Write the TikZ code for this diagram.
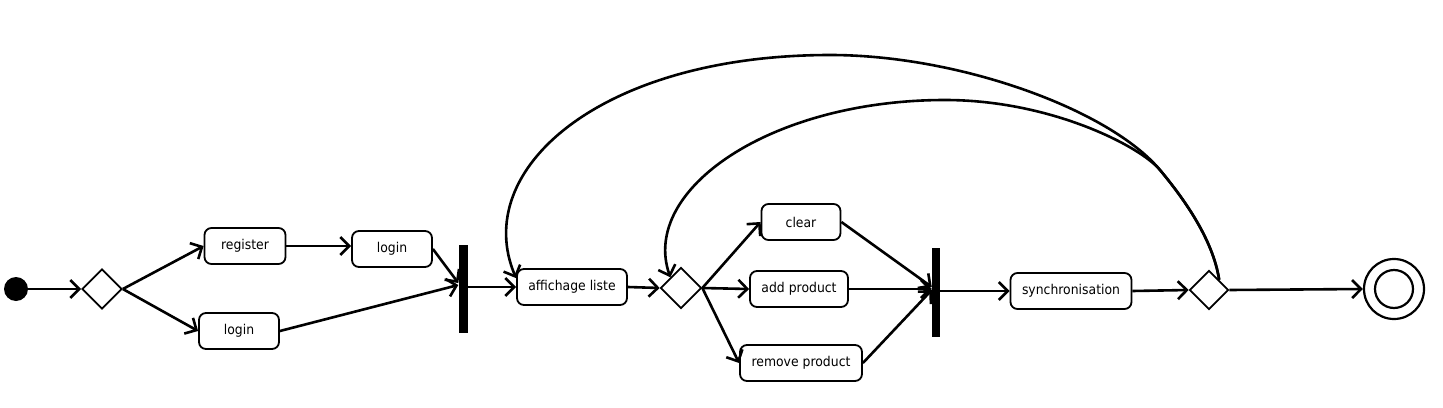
\documentclass[tikz,border=0pt]{standalone}
\usepackage{fontspec}
\setmainfont{DejaVu Sans}[FakeStretch=0.92]
\usetikzlibrary{shapes.geometric,arrows.meta}
\begin{document}
\begin{tikzpicture}[x=1pt,y=-1pt,
  act/.style={draw,rounded corners=7pt,line width=1.8pt,minimum height=36pt,inner sep=0pt,font=\fontsize{13.5}{15}\selectfont},
  dec/.style={draw,diamond,aspect=1,minimum size=40pt,inner sep=0pt,line width=1.7pt},
  syncbar/.style={fill=black,minimum width=9pt,inner sep=0pt},
  flow/.style={line width=2.6pt,-{Straight Barb[length=9pt,width=18pt,line width=2.6pt]}}
]
\useasboundingbox (0,0) rectangle (1443,407);
\node[circle,fill=black,minimum size=24pt,inner sep=0pt] (init) at (16,289) {};
\node[dec] (d1) at (102,289) {};
\node[act,minimum width=81pt] (reg) at (245,246) {register};
\node[act,minimum width=80pt] (login1) at (392,249) {login};
\node[act,minimum width=80pt] (login2) at (239,331) {login};
\node[syncbar,minimum height=88pt] (bar1) at (463,289) {};
\node[act,minimum width=110pt] (aff) at (572,287) {affichage liste};
\node[dec,minimum size=41pt] (d2) at (681,288) {};
\node[act,minimum width=79pt] (clear) at (801,222) {clear};
\node[act,minimum width=98pt] (add) at (799,289) {add product};
\node[act,minimum width=122pt] (rem) at (801,363) {remove product};
\node[syncbar,minimum width=8pt,minimum height=89pt] (bar2) at (936,292) {};
\node[act,minimum width=121pt] (sync) at (1071,291) {synchronisation};
\node[dec,minimum size=39pt] (d3) at (1209,290) {};
\node[circle,draw,line width=2.2pt,minimum size=60pt,inner sep=0pt] (fin) at (1394,289) {};
\node[circle,draw,line width=2.2pt,minimum size=38pt,inner sep=0pt] (finin) at (1394,289) {};

\draw[flow] (init) -- (d1.west);
\draw[flow] (d1.east) -- (reg.west);
\draw[flow] (d1.east) -- (login2.west);
\draw[flow] (reg.east) -- (login1.west |- reg.east);
\draw[flow] (login1.east) -- ([yshift=6pt]bar1.west);
\draw[flow] (login2.east) -- ([yshift=4pt]bar1.west);
\draw[flow] (bar1.east |- aff.west) -- (aff.west);
\draw[flow] (aff.east) -- (d2.west);
\draw[flow] (d2.east) -- (clear.west);
\draw[flow] (d2.east) -- (add.west);
\draw[flow] (d2.east) -- (rem.west);
\draw[flow] (clear.east) -- ([yshift=5pt]bar2.west);
\draw[flow] (add.east) -- (bar2.west |- add.east);
\draw[flow] (rem.east) -- ([yshift=2pt]bar2.west);
\draw[flow] (bar2.east |- sync.west) -- (sync.west);
\draw[flow] (sync.east) -- (d3.west);
\draw[flow] (d3.east) -- (fin.west);

\draw[flow] (d3.north east) .. controls (1213,240) and (1185,200) .. (1160,170)
  .. controls (1110,110) and (960,55) .. (830,55)
  .. controls (600,55) and (470,170) .. ([yshift=-10pt]aff.north west);
\draw[flow] (d3.north east) .. controls (1213,240) and (1185,200) .. (1160,170)
  .. controls (1140,146) and (1050,100) .. (945,100)
  .. controls (770,100) and (640,190) .. (d2.north west);
\end{tikzpicture}
\end{document}
